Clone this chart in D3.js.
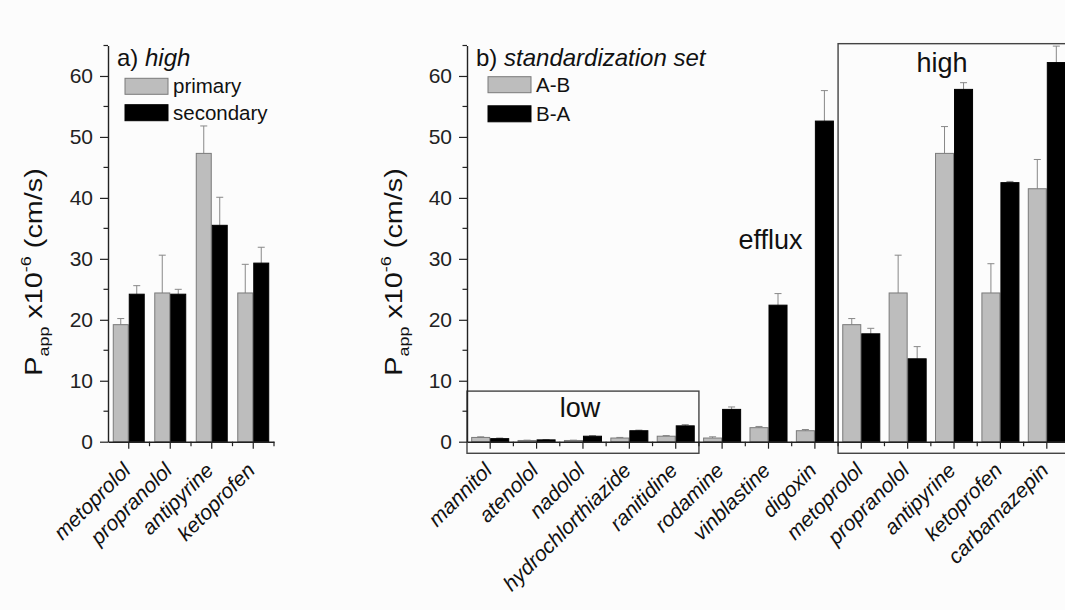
<!DOCTYPE html>
<html>
<head>
<meta charset="utf-8">
<script src="https://cdn.jsdelivr.net/npm/d3@7"></script>
<style>
  body { margin: 0; background: #fcfcfc; }
  svg { font-family: "Liberation Sans", Arial, sans-serif; }
</style>
</head>
<body>
<div id="chart"></div>
<script>
// panel a) high
var highDrugs = ["metoprolol", "propranolol", "antipyrine", "ketoprofen"];
var primaryVals = [19.2, 24.4, 47.3, 24.4];
var primaryErr = [1.0, 6.2, 4.5, 4.7];
var secondaryVals = [24.2, 24.2, 35.5, 29.3];
var secondaryErr = [1.4, 0.8, 4.6, 2.6];

// panel b) standardization set
var stdDrugs = ["mannitol", "atenolol", "nadolol", "hydrochlorthiazide", "ranitidine", "rodamine",
  "vinblastine", "digoxin", "metoprolol", "propranolol", "antipyrine", "ketoprofen", "carbamazepin"];
var abVals = [0.7, 0.2, 0.2, 0.6, 0.9, 0.6, 2.3, 1.8, 19.2, 24.4, 47.3, 24.4, 41.5];
var abErr = [0.1, 0.05, 0.05, 0.1, 0.1, 0.2, 0.2, 0.2, 1.0, 6.2, 4.4, 4.8, 4.8];
var baVals = [0.5, 0.3, 0.9, 1.8, 2.6, 5.3, 22.4, 52.6, 17.7, 13.6, 57.8, 42.5, 62.2];
var baErr = [0.1, 0.05, 0.1, 0.1, 0.2, 0.4, 1.9, 5.0, 0.9, 2.0, 1.1, 0.2, 2.7];

var yMajor = [0, 10, 20, 30, 40, 50, 60];
var yMinor = [5, 15, 25, 35, 45, 55, 65];

var width = 1065, height = 610;
var grey = "#bdbdbd";

var svg = d3.select("#chart").append("svg")
  .attr("width", width).attr("height", height);

var y = d3.scaleLinear().domain([0, 65]).range([441.7, 45.5]);

function drawPanel(opts) {
  var g = svg.append("g");
  var x = d3.scaleBand().domain(opts.cats).range(opts.xr).padding(0);
  var bw = x.bandwidth();
  var w = bw * opts.barFrac;

  // boxes behind everything
  (opts.boxes || []).forEach(function(b) {
    var x0 = x(opts.cats[b.from]), x1 = x(opts.cats[b.to]) + bw;
    g.append("rect")
      .attr("x", x0).attr("y", y(b.top))
      .attr("width", x1 - x0).attr("height", y(-1.9) - y(b.top))
      .attr("fill", "none").attr("stroke", "#444").attr("stroke-width", 1.4);
    g.append("text")
      .attr("x", (x0 + x1) / 2 + (b.dx || 0)).attr("y", y(b.labelY))
      .attr("text-anchor", "middle").attr("font-size", 27).attr("fill", "#111")
      .text(b.label);
  });

  // y axis
  var yAxis = d3.axisLeft(y).tickValues(yMajor).tickSize(8).tickSizeOuter(0).tickPadding(7);
  var ya = g.append("g").attr("transform", "translate(" + opts.xr[0] + ",0)").call(yAxis);
  ya.select(".domain").attr("stroke", "#222").attr("stroke-width", 1.4);
  ya.selectAll(".tick line").attr("stroke", "#222").attr("stroke-width", 1.2);
  ya.selectAll(".tick text").attr("font-size", 21).attr("fill", "#222").attr("font-family", "Liberation Sans, Arial");
  g.append("g").selectAll("line").data(yMinor).enter().append("line")
    .attr("x1", opts.xr[0] - 4.5).attr("x2", opts.xr[0])
    .attr("y1", function(d) { return y(d); }).attr("y2", function(d) { return y(d); })
    .attr("stroke", "#222").attr("stroke-width", 1.2);

  // bars
  var series = [
    { vals: opts.s1, err: opts.e1, fill: grey, stroke: "#7a7a7a", off: -w },
    { vals: opts.s2, err: opts.e2, fill: "#000", stroke: "#000", off: 0 }
  ];
  series.forEach(function(s) {
    var gs = g.append("g");
    gs.selectAll("line.err").data(opts.cats).enter().append("line")
      .attr("x1", function(d) { return x(d) + bw / 2 + s.off + w / 2; })
      .attr("x2", function(d) { return x(d) + bw / 2 + s.off + w / 2; })
      .attr("y1", function(d, i) { return y(s.vals[i]); })
      .attr("y2", function(d, i) { return y(s.vals[i] + s.err[i]); })
      .attr("stroke", "#888").attr("stroke-width", 1);
    gs.selectAll("line.cap").data(opts.cats).enter().append("line")
      .attr("x1", function(d) { return x(d) + bw / 2 + s.off + w / 2 - 3.5; })
      .attr("x2", function(d) { return x(d) + bw / 2 + s.off + w / 2 + 3.5; })
      .attr("y1", function(d, i) { return y(s.vals[i] + s.err[i]); })
      .attr("y2", function(d, i) { return y(s.vals[i] + s.err[i]); })
      .attr("stroke", "#888").attr("stroke-width", 1);
    gs.selectAll("rect").data(opts.cats).enter().append("rect")
      .attr("x", function(d) { return x(d) + bw / 2 + s.off + 0.5; })
      .attr("y", function(d, i) { return y(s.vals[i]); })
      .attr("width", w - 1)
      .attr("height", function(d, i) { return y(0) - y(s.vals[i]); })
      .attr("fill", s.fill).attr("stroke", s.stroke).attr("stroke-width", 1);
  });

  // x axis: long ticks at group centres, short ones at group edges
  var xAxis = d3.axisBottom(x).tickSize(7).tickSizeOuter(0).tickFormat("");
  var xa = g.append("g").attr("transform", "translate(0," + y(0) + ")").call(xAxis);
  xa.select(".domain").attr("stroke", "#222").attr("stroke-width", 1.4);
  xa.selectAll(".tick line").attr("stroke", "#222").attr("stroke-width", 1.2);
  g.append("g").selectAll("line").data(opts.cats).enter().append("line")
    .attr("x1", function(d) { return x(d) + bw; })
    .attr("x2", function(d) { return x(d) + bw; })
    .attr("y1", y(0)).attr("y2", y(0) + 4.5)
    .attr("stroke", "#222").attr("stroke-width", 1.2);

  g.append("g").selectAll("text").data(opts.cats).enter().append("text")
    .attr("transform", function(d) {
      return "translate(" + (x(d) + bw / 2 + 3) + "," + (y(0) + 30) + ") rotate(-45)";
    })
    .attr("text-anchor", "end")
    .attr("font-size", 21).attr("font-style", "italic").attr("fill", "#111")
    .text(function(d) { return d; });

  // title
  var t = g.append("text").attr("x", opts.xr[0] + 9).attr("y", 66)
    .attr("font-size", 24).attr("fill", "#111");
  t.append("tspan").text(opts.titleA + " ");
  t.append("tspan").attr("font-style", "italic").text(opts.titleB);

  // legend
  opts.legend.forEach(function(l, i) {
    var ly = opts.legY[i];
    g.append("rect")
      .attr("x", opts.legX).attr("y", ly - 8).attr("width", 43).attr("height", 16)
      .attr("fill", i === 0 ? grey : "#000").attr("stroke", i === 0 ? "#7a7a7a" : "#000");
    g.append("text").attr("x", opts.legX + 48).attr("y", ly + 7)
      .attr("font-size", 20.5).attr("fill", "#111").text(l);
  });

  // y title (P_app x10^-6 (cm/s)), a bit stretched along its length like the source
  var yt = g.append("text")
    .attr("transform", "translate(" + opts.ytX + ",272) rotate(-90) scale(1.2,1)")
    .attr("text-anchor", "middle").attr("font-size", 24).attr("fill", "#111");
  yt.append("tspan").text("P");
  yt.append("tspan").attr("font-size", 15).attr("dy", 7).text("app");
  yt.append("tspan").attr("dy", -7).text(" x10");
  yt.append("tspan").attr("font-size", 15).attr("dy", -11).text("-6");
  yt.append("tspan").attr("dy", 11).text(" (cm/s)");

  (opts.notes || []).forEach(function(n) {
    g.append("text").attr("x", x(opts.cats[n.at]) + bw / 2 + n.dx).attr("y", y(n.val))
      .attr("text-anchor", "middle").attr("font-size", 27).attr("fill", "#111").text(n.label);
  });
}

drawPanel({
  cats: highDrugs, xr: [108, 274], barFrac: 0.385,
  s1: primaryVals, e1: primaryErr, s2: secondaryVals, e2: secondaryErr,
  titleA: "a)", titleB: "high", legend: ["primary", "secondary"],
  legX: 125, legY: [86.3, 112.7], ytX: 42
});

drawPanel({
  cats: stdDrugs, xr: [467, 1070], barFrac: 0.41,
  s1: abVals, e1: abErr, s2: baVals, e2: baErr,
  titleA: "b)", titleB: "standardization set", legend: ["A-B", "B-A"],
  legX: 488, legY: [84.7, 113.8], ytX: 402,
  boxes: [
    { from: 0, to: 4, top: 8.3, label: "low", labelY: 4.1, dx: -3 },
    { from: 8, to: 12, top: 65.3, label: "high", labelY: 60.7, dx: -12 }
  ],
  notes: [{ at: 6, dx: 2, val: 31.6, label: "efflux" }]
});
</script>
</body>
</html>
